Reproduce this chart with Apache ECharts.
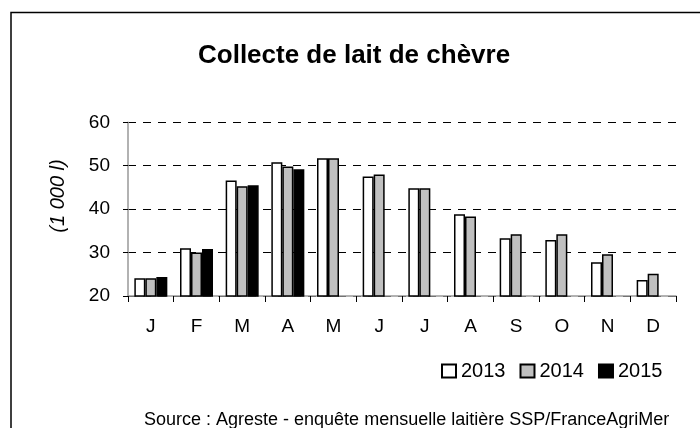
<!DOCTYPE html>
<html>
<head>
<meta charset="utf-8">
<script src="https://cdn.jsdelivr.net/npm/echarts@6/dist/echarts.min.js"></script>
<style>
  html, body { margin: 0; padding: 0; background: #fff; }
  #chart { width: 700px; height: 428px; }
</style>
</head>
<body>
<div id="chart"></div>
<script>
// mois
const months = ["J", "F", "M", "A", "M", "J", "J", "A", "S", "O", "N", "D"]
// collecte (1 000 l)
const y2013 = [24.1, 31.0, 46.6, 50.8, 51.7, 47.5, 44.8, 38.8, 33.3, 32.9, 27.8, 23.7]
const y2014 = [24.1, 30.0, 45.3, 49.8, 51.7, 48.0, 44.8, 38.3, 34.2, 34.2, 29.6, 25.1]
const y2015 = [24.4, 30.8, 45.5, 49.2, null, null, null, null, null, null, null, null]
const yTicks = { min: 20, max: 60, interval: 10 }

const font = "'Liberation Sans', Arial, sans-serif"

const chart = echarts.init(document.getElementById("chart"), null, { renderer: "canvas" })

const barStyle = (color) => ({
  color: color,
  borderColor: "#000",
  borderWidth: 1.5,
})

const option = {
  animation: false,
  backgroundColor: "#fff",
  title: [
    {
      text: "Collecte de lait de chèvre",
      left: 193,
      top: 38,
      textStyle: { fontFamily: font, fontSize: 26, fontWeight: "bold", color: "#000" },
    },
    {
      text: "Source : Agreste - enquête mensuelle laitière SSP/FranceAgriMer",
      left: 139,
      top: 406,
      textStyle: { fontFamily: font, fontSize: 18, fontWeight: "normal", color: "#000" },
    },
  ],
  grid: {
    left: 128,
    right: 24,
    top: 122.3,
    bottom: 132,
    containLabel: false,
  },
  legend: {
    data: ["2013", "2014", "2015"],
    left: 436,
    top: 356,
    icon: "rect",
    itemWidth: 14,
    itemHeight: 13,
    itemGap: 14,
    textStyle: { fontFamily: font, fontSize: 20, color: "#000" },
  },
  xAxis: {
    type: "category",
    data: months,
    axisLine: { lineStyle: { color: "#999", width: 1.5 } },
    axisTick: { show: true, length: 6, lineStyle: { color: "#000", width: 1 } },
    axisLabel: { fontFamily: font, fontSize: 19, color: "#000", margin: 21 },
  },
  yAxis: {
    type: "value",
    min: yTicks.min,
    max: yTicks.max,
    interval: yTicks.interval,
    axisLine: { show: true, lineStyle: { color: "#999", width: 1.5 } },
    axisTick: { show: true, length: 5, lineStyle: { color: "#000" } },
    axisLabel: { fontFamily: font, fontSize: 19, color: "#000", margin: 18 },
    splitLine: { show: true, lineStyle: { color: "#000", type: [8, 7], width: 1 } },
  },
  series: [
    { name: "2013", type: "bar", data: y2013, barWidth: 11, barGap: "0%", itemStyle: barStyle("#fff") },
    { name: "2014", type: "bar", data: y2014, barWidth: 11, barGap: "0%", itemStyle: barStyle("#c0c0c0") },
    { name: "2015", type: "bar", data: y2015, barWidth: 11, barGap: "0%", itemStyle: barStyle("#000") },
  ],
  graphic: [
    {
      type: "rect",
      silent: true,
      z: 100,
      shape: { x: 11, y: 12.5, width: 720, height: 440 },
      style: { fill: null, stroke: "#000", lineWidth: 1.5 },
    },
    // unité de l'axe
    {
      type: "text",
      silent: true,
      x: 58,
      y: 196,
      rotation: Math.PI / 2,
      style: {
        text: "(1 000 l)",
        font: "italic 20px " + font,
        fill: "#000",
        align: "center",
        verticalAlign: "middle",
      },
    },
  ],
}

chart.setOption(option)
window.addEventListener("resize", () => chart.resize())
</script>
</body>
</html>
